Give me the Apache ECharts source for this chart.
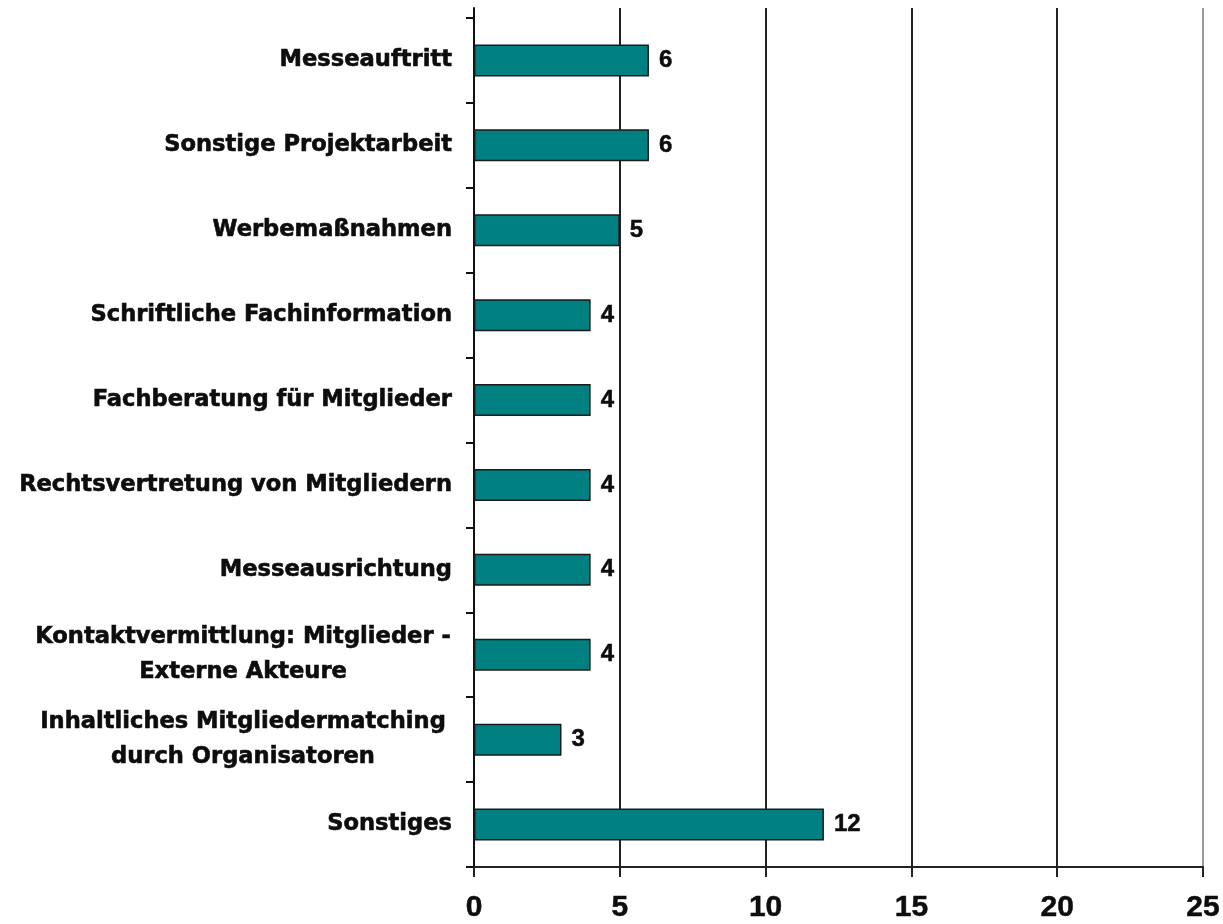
<!DOCTYPE html>
<html>
<head>
<meta charset="utf-8">
<script src="https://cdn.jsdelivr.net/npm/echarts@6/dist/echarts.min.js"></script>
<style>
  html, body { margin: 0; padding: 0; background: #fff; }
  #chart { width: 1223px; height: 924px; }
</style>
</head>
<body>
<div id="chart"></div>
<script>
// Activities, listed top to bottom
const categories = [
  'Messeauftritt',
  'Sonstige Projektarbeit',
  'Werbemaßnahmen',
  'Schriftliche Fachinformation',
  'Fachberatung für Mitglieder',
  'Rechtsvertretung von Mitgliedern',
  'Messeausrichtung',
  'Kontaktvermittlung: Mitglieder -\nExterne Akteure',
  'Inhaltliches Mitgliedermatching\ndurch Organisatoren',
  'Sonstiges'
];
// Number of mentions per activity
const values = [6, 6, 5, 4, 4, 4, 4, 4, 3, 12];
// Value axis range and step
const axisMin = 0;
const axisMax = 25;
const axisStep = 5;

const catSize = 22.6;
const catFont = 'bold ' + catSize + 'px "DejaVu Sans"';
const numFontFamily = '"Liberation Sans", Arial, sans-serif';

// Width of the longest line among wrapped labels, so their lines can be centred
function textWidth(str, font) {
  const ctx = document.createElement('canvas').getContext('2d');
  ctx.font = font;
  return ctx.measureText(str).width;
}
let wrapWidth = 0;
categories.forEach(c => {
  if (c.includes('\n')) {
    c.split('\n').forEach(l => { wrapWidth = Math.max(wrapWidth, textWidth(l, catFont)); });
  }
});
wrapWidth = Math.ceil(wrapWidth) + 2;

const chart = echarts.init(document.getElementById('chart'), null, { renderer: 'canvas' });

const gridLeft = 474, gridRight = 20, gridBottom = 57;
const catStyle = {
  fontFamily: '"DejaVu Sans"', fontWeight: 'bold', fontSize: catSize, color: '#0d0d0d',
  textBorderColor: '#0d0d0d', textBorderWidth: 0.6
};

chart.setOption({
  backgroundColor: '#ffffff',
  animation: false,
  grid: [
    { left: gridLeft, right: gridRight, top: 18, bottom: gridBottom, containLabel: false },
    // background frame: vertical grid lines and the left axis line reach slightly higher
    { left: gridLeft, right: gridRight, top: 8, bottom: gridBottom, containLabel: false }
  ],
  xAxis: [
    {
      gridIndex: 0,
      type: 'value',
      min: axisMin, max: axisMax, interval: axisStep,
      axisLine: { show: true, lineStyle: { color: '#222', width: 2 } },
      axisTick: { show: true, length: 10, lineStyle: { color: '#222', width: 2 } },
      axisLabel: {
        margin: 26,
        color: '#0d0d0d',
        fontFamily: numFontFamily,
        fontWeight: 'bold',
        fontSize: 30,
        textBorderColor: '#0d0d0d',
        textBorderWidth: 0.5
      },
      splitLine: { show: false }
    },
    {
      gridIndex: 1,
      type: 'value',
      min: axisMin, max: axisMax, interval: axisStep,
      axisLine: { show: false },
      axisTick: { show: false },
      axisLabel: { show: false },
      splitLine: {
        show: true,
        lineStyle: { color: ['#222', '#222', '#222', '#222', '#222', '#9a9a9a'], width: 2 }
      }
    }
  ],
  yAxis: [
    {
      gridIndex: 0,
      type: 'category',
      data: categories,
      inverse: true,
      axisLine: { show: true, lineStyle: { color: '#111', width: 2 } },
      axisTick: { show: true, length: 8, lineStyle: { color: '#111', width: 2 } },
      axisLabel: {
        margin: 22,
        color: '#0d0d0d',
        formatter: function (v) {
          if (v.includes('\n')) {
            return v.split('\n').map(l => '{c|' + l + '}').join('\n');
          }
          return '{n|' + v + '}';
        },
        rich: {
          n: Object.assign({}, catStyle),
          c: Object.assign({}, catStyle, { width: wrapWidth, align: 'center', lineHeight: 35 })
        }
      },
      splitLine: { show: false }
    },
    {
      gridIndex: 1,
      type: 'value',
      axisLine: { show: true, onZero: false, lineStyle: { color: '#111', width: 2 } },
      axisTick: { show: false },
      axisLabel: { show: false },
      splitLine: { show: false }
    }
  ],
  series: [
    {
      type: 'bar',
      xAxisIndex: 0,
      yAxisIndex: 0,
      data: values,
      barWidth: 32,
      itemStyle: { color: '#008080', borderColor: '#1a1a1a', borderWidth: 1.5 },
      label: {
        show: true,
        position: 'right',
        distance: 10,
        color: '#0d0d0d',
        fontFamily: numFontFamily,
        fontWeight: 'bold',
        fontSize: 24,
        textBorderColor: '#0d0d0d',
        textBorderWidth: 0.5
      },
      z: 3
    }
  ]
});
</script>
</body>
</html>
